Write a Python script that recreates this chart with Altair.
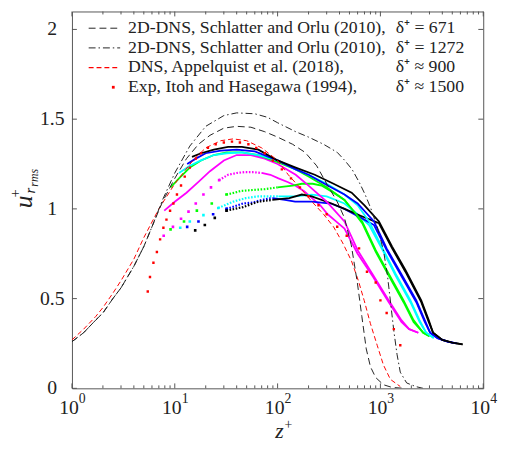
import altair as alt
import pandas as pd

# ---------------- data ----------------
# 2D-DNS, Schlatter and Orlu (2010), delta+ = 671  (black dashed)
z671 = [1, 1.3, 1.7, 2, 2.5, 3, 4, 5, 6, 7.6, 10, 13, 17, 22, 30, 40, 55, 75, 100, 140,
        185, 240, 307, 380, 447, 520, 596, 660, 728, 800, 900, 1070, 1300, 1700]
u671 = [0.26, 0.31, 0.38, 0.42, 0.5, 0.56, 0.68, 0.79, 0.9, 1.04, 1.17, 1.28, 1.36, 1.41, 1.45, 1.46, 1.455, 1.43, 1.40, 1.36,
        1.315, 1.24, 1.13, 1.04, 0.95, 0.8, 0.59, 0.4, 0.22, 0.12, 0.06, 0.02, 0.005, 0.0]
# 2D-DNS, Schlatter and Orlu (2010), delta+ = 1272 (black dash-dot)
z1272 = [1, 1.3, 1.7, 2, 2.5, 3, 4, 5, 6, 7.6, 10, 14, 20, 30, 40, 60, 80, 100, 150, 200, 280,
         380, 450, 530, 620, 710, 810, 930, 1070, 1170, 1260, 1350, 1450, 1560, 1800, 2200, 2600]
u1272 = [0.26, 0.31, 0.38, 0.42, 0.5, 0.56, 0.68, 0.79, 0.9, 1.05, 1.2, 1.35, 1.46, 1.52, 1.535, 1.53, 1.51, 1.48, 1.43, 1.40, 1.36,
         1.315, 1.27, 1.22, 1.15, 1.08, 1.0, 0.9, 0.77, 0.63, 0.47, 0.32, 0.19, 0.09, 0.03, 0.01, 0.0]
# DNS, Appelquist et al. (2018) (red dashed)
z900 = [1, 1.3, 1.7, 2, 2.5, 3, 4, 5, 7, 10, 15, 20, 28, 37, 50, 70, 100, 127, 170, 216, 280,
        350, 430, 523, 610, 695, 800, 930, 1070, 1250, 1560]
u900 = [0.27, 0.33, 0.40, 0.45, 0.53, 0.6, 0.72, 0.84, 1.0, 1.14, 1.27, 1.34, 1.38, 1.39, 1.38, 1.34, 1.27, 1.19, 1.11, 1.04, 0.97,
        0.9, 0.81, 0.71, 0.6, 0.49, 0.36, 0.24, 0.13, 0.05, 0.01]
# Exp, Itoh and Hasegawa (1994) (red dots)
exp_z = [5.46, 5.74, 6.2, 6.7, 7.2, 7.75, 8.3, 9.0, 9.7, 10.5, 11.5, 12.5, 14, 16, 18, 21, 25, 30, 36, 43,
         52, 62, 75, 90, 110, 135, 165, 200, 250, 300, 380, 470, 620, 740, 900, 1000, 1150, 1350, 1560]
exp_u = [0.54, 0.62, 0.70, 0.76, 0.83, 0.895, 0.94, 0.99, 1.03, 1.08, 1.13, 1.18, 1.23, 1.28, 1.31, 1.34, 1.36, 1.37, 1.375, 1.37,
         1.36, 1.34, 1.31, 1.27, 1.22, 1.17, 1.12, 1.07, 1.02, 0.97, 0.9, 0.85, 0.78, 0.65, 0.59, 0.49, 0.42, 0.33, 0.24]

# measurement set A (solid lines)
magA_z = [7.9, 10, 13, 17, 22, 30, 40, 55, 75, 100, 150, 200, 300, 447, 600, 850, 1206, 1600, 1900, 2335]
magA_u = [0.99, 1.04, 1.09, 1.15, 1.21, 1.27, 1.30, 1.30, 1.28, 1.25, 1.19, 1.13, 1.04, 0.93, 0.77, 0.63, 0.49, 0.38, 0.33, 0.31]
grnA_z = [9.1, 11, 14, 18, 24, 32, 45, 65, 100, 150, 200, 300, 447, 665, 900, 1200, 1679, 2100, 2608, 3000]
grnA_u = [1.12, 1.17, 1.23, 1.27, 1.30, 1.315, 1.315, 1.30, 1.26, 1.22, 1.18, 1.12, 1.05, 0.93, 0.77, 0.64, 0.49, 0.38, 0.31, 0.29]
cyaA_z = [11, 14, 18, 24, 32, 45, 65, 100, 150, 200, 300, 447, 600, 776, 1050, 1400, 1959, 2400, 2785, 3300]
cyaA_u = [1.2, 1.24, 1.27, 1.30, 1.31, 1.315, 1.30, 1.27, 1.22, 1.19, 1.14, 1.08, 1.02, 0.93, 0.78, 0.64, 0.49, 0.38, 0.31, 0.28]
bluA_z = [13.2, 16, 20, 28, 40, 60, 100, 150, 200, 307, 447, 600, 866, 1150, 1550, 2234, 2700, 3043, 3600, 4500, 5500]
bluA_u = [1.25, 1.28, 1.31, 1.325, 1.33, 1.32, 1.27, 1.22, 1.19, 1.13, 1.08, 1.03, 0.93, 0.78, 0.65, 0.49, 0.38, 0.31, 0.28, 0.26, 0.25]
blkA_z = [14.7, 18, 24, 33, 45, 65, 100, 150, 230, 350, 525, 700, 968, 1300, 1750, 2495, 2950, 3250, 4000, 5000, 6300]
blkA_u = [1.29, 1.31, 1.33, 1.345, 1.345, 1.33, 1.27, 1.23, 1.19, 1.14, 1.09, 1.02, 0.93, 0.79, 0.66, 0.49, 0.38, 0.31, 0.27, 0.255, 0.245]

# measurement set B: sparse dots, dense dotted part, solid part
magB_dz = [7.8, 9.6, 11.5, 13.6, 16, 19, 22.5, 27]
magB_du = [0.85, 0.9, 0.945, 0.985, 1.03, 1.08, 1.12, 1.16]
magB_tz = [27, 33, 40, 48, 57, 70]
magB_tu = [1.16, 1.19, 1.2, 1.205, 1.205, 1.2]
magB_sz = [70, 85, 102, 125, 148, 180, 216, 260, 307, 370, 447, 600, 850, 1206, 1600, 1900, 2335]
magB_su = [1.2, 1.19, 1.17, 1.15, 1.13, 1.1, 1.06, 1.02, 0.97, 0.93, 0.89, 0.75, 0.62, 0.48, 0.37, 0.33, 0.31]

grnB_dz = [9.1, 12.3, 16.4, 22.9, 31.8]
grnB_du = [0.886, 0.93, 0.99, 1.03, 1.08]
grnB_tz = [31.8, 38, 44, 57, 75, 100]
grnB_tu = [1.08, 1.09, 1.10, 1.105, 1.11, 1.12]
grnB_sz = [100, 140, 172, 220, 267, 350, 447, 665, 900, 1200, 1679, 2100, 2608, 3000]
grnB_su = [1.12, 1.13, 1.14, 1.14, 1.13, 1.09, 1.05, 0.92, 0.76, 0.63, 0.48, 0.37, 0.31, 0.29]

cyaB_dz = [11.3, 14, 19, 26.5]
cyaB_du = [0.895, 0.93, 0.965, 1.005]
cyaB_tz = [26.5, 36.8, 49, 65, 102]
cyaB_tu = [1.005, 1.04, 1.06, 1.07, 1.07]
cyaB_sz = [102, 148, 215, 300, 447, 600, 776, 1050, 1400, 1959, 2400, 2785, 3300]
cyaB_su = [1.07, 1.07, 1.08, 1.07, 1.03, 0.97, 0.91, 0.77, 0.63, 0.48, 0.37, 0.31, 0.28]

bluB_dz = [13.2, 17, 23.6, 31.8]
bluB_du = [0.9, 0.93, 0.97, 1.0]
bluB_tz = [31.8, 46, 57, 70, 89]
bluB_tu = [1.0, 1.03, 1.035, 1.05, 1.06]
bluB_sz = [89, 118, 148, 215, 330, 447, 650, 866, 1150, 1550, 2234, 2700, 3043, 3600, 4500, 5500]
bluB_su = [1.06, 1.05, 1.04, 1.04, 1.03, 1.0, 0.95, 0.91, 0.77, 0.64, 0.48, 0.37, 0.31, 0.28, 0.26, 0.25]

blkB_dz = [15.8, 19.6, 24.5, 31.8]
blkB_du = [0.88, 0.91, 0.95, 0.99]
blkB_tz = [31.8, 46, 65, 89]
blkB_tu = [0.99, 1.01, 1.04, 1.05]
blkB_sz = [89, 130, 172, 215, 335, 447, 650, 968, 1300, 1750, 2495, 2950, 3250, 4000, 5000, 6300]
blkB_su = [1.05, 1.06, 1.08, 1.07, 1.03, 1.0, 0.96, 0.92, 0.78, 0.65, 0.48, 0.37, 0.31, 0.27, 0.255, 0.245]

# axes ticks / labels
x_major = [1, 10, 100, 1000, 10000]
x_exp = ["0", "1", "2", "3", "4"]
x_minor = [2, 3, 4, 5, 6, 7, 8, 9, 20, 30, 40, 50, 60, 70, 80, 90,
           200, 300, 400, 500, 600, 700, 800, 900, 2000, 3000, 4000, 5000, 6000, 7000, 8000, 9000]
y_ticks = [0, 0.5, 1, 1.5, 2]
y_labels = ["0", "0.5", "1", "1.5", "2"]

legend_left = ["2D-DNS, Schlatter and Orlu (2010),", "2D-DNS, Schlatter and Orlu (2010),",
               "DNS, Appelquist et al. (2018),", "Exp, Itoh and Hasegawa (1994),"]
legend_right = ["δ⁺ = 671", "δ⁺ = 1272", "δ⁺ ≈ 900", "δ⁺ ≈ 1500"]

# ---------------- chart ----------------
W, H = 418, 383
SERIF = "Liberation Serif"
FRAME = "#555555"
xs = alt.Scale(type="log", domain=[1, 10000])
ys = alt.Scale(domain=[0, 2.1])
MAG, GRN, CYA, BLU, BLK, RED = "#ff00ff", "#00ff00", "#00ffff", "#0000ff", "#000000", "#ff0000"


def frame(z, u):
    return pd.DataFrame({"z": z, "u": u})


def enc():
    return dict(x=alt.X("z:Q", scale=xs, axis=None), y=alt.Y("u:Q", scale=ys, axis=None))


def line(z, u, color, width=1.8, dash=None):
    kw = dict(color=color, strokeWidth=width, clip=True)
    if dash:
        kw["strokeDash"] = dash
    return alt.Chart(frame(z, u)).mark_line(**kw).encode(**enc())


def dots(z, u, color, size=7):
    return alt.Chart(frame(z, u)).mark_square(color=color, size=size, opacity=1, clip=True).encode(**enc())


one = pd.DataFrame({"a": [0]})
layers = []

# set B (dotted start) then set A
for dz, du, tz, tu, sz, su, c in [
    (magB_dz, magB_du, magB_tz, magB_tu, magB_sz, magB_su, MAG),
    (grnB_dz, grnB_du, grnB_tz, grnB_tu, grnB_sz, grnB_su, GRN),
    (cyaB_dz, cyaB_du, cyaB_tz, cyaB_tu, cyaB_sz, cyaB_su, CYA),
    (bluB_dz, bluB_du, bluB_tz, bluB_tu, bluB_sz, bluB_su, BLU),
    (blkB_dz, blkB_du, blkB_tz, blkB_tu, blkB_sz, blkB_su, BLK),
]:
    layers.append(dots(dz, du, c))
    layers.append(line(tz, tu, c, width=2.2, dash=[1.6, 1.6]))
    layers.append(line(sz, su, c, width=1.8))

for z, u, c in [(magA_z, magA_u, MAG), (grnA_z, grnA_u, GRN), (cyaA_z, cyaA_u, CYA),
                (bluA_z, bluA_u, BLU), (blkA_z, blkA_u, BLK)]:
    layers.append(line(z, u, c, width=1.8))

layers.append(line(z900, u900, RED, width=1.0, dash=[5, 3]))
layers.append(line(z671, u671, "#222222", width=1.0, dash=[7, 4]))
layers.append(line(z1272, u1272, "#222222", width=1.0, dash=[7, 3, 1.5, 3]))
layers.append(dots(exp_z, exp_u, RED, size=6))

# ticks (inside)
tk = alt.Chart(pd.DataFrame({"z": x_major}))
tm = alt.Chart(pd.DataFrame({"z": x_minor}))
for base, L in [(tk, 5), (tm, 3)]:
    layers.append(base.mark_rule(color=FRAME, strokeWidth=1).encode(
        x=alt.X("z:Q", scale=xs, axis=None), y=alt.value(H), y2=alt.value(H - L)))
    layers.append(base.mark_rule(color=FRAME, strokeWidth=1).encode(
        x=alt.X("z:Q", scale=xs, axis=None), y=alt.value(0), y2=alt.value(L)))
ty = alt.Chart(pd.DataFrame({"u": y_ticks, "lab": y_labels}))
layers.append(ty.mark_rule(color=FRAME, strokeWidth=1).encode(
    y=alt.Y("u:Q", scale=ys, axis=None), x=alt.value(0), x2=alt.value(5)))
layers.append(ty.mark_rule(color=FRAME, strokeWidth=1).encode(
    y=alt.Y("u:Q", scale=ys, axis=None), x=alt.value(W), x2=alt.value(W - 5)))

# tick labels
layers.append(ty.mark_text(font=SERIF, fontSize=20, align="center", baseline="middle", color="#222").encode(
    y=alt.Y("u:Q", scale=ys, axis=None), x=alt.value(-20), text="lab:N"))
tx = alt.Chart(pd.DataFrame({"z": x_major, "e": x_exp}))
layers.append(tx.mark_text(font=SERIF, fontSize=20, align="right", baseline="alphabetic", dx=7, color="#222").encode(
    x=alt.X("z:Q", scale=xs, axis=None), y=alt.value(H + 26), text=alt.value("10")))
layers.append(tx.mark_text(font=SERIF, fontSize=14, align="left", baseline="alphabetic", dx=7, color="#222").encode(
    x=alt.X("z:Q", scale=xs, axis=None), y=alt.value(H + 15), text="e:N"))

# axis titles
oc = alt.Chart(one)
layers.append(oc.mark_text(font=SERIF, fontSize=22, fontStyle="italic", align="center", baseline="alphabetic", color="#222").encode(
    x=alt.value(211), y=alt.value(H + 50), text=alt.value("z")))
layers.append(oc.mark_text(font=SERIF, fontSize=14, align="left", baseline="alphabetic", color="#222").encode(
    x=alt.value(216), y=alt.value(H + 41), text=alt.value("+")))
layers.append(oc.mark_text(font=SERIF, fontSize=26, fontStyle="italic", angle=270, align="left", baseline="alphabetic", color="#222").encode(
    x=alt.value(-41), y=alt.value(200), text=alt.value("u")))
layers.append(oc.mark_text(font=SERIF, fontSize=15, angle=270, align="left", baseline="alphabetic", color="#222").encode(
    x=alt.value(-53), y=alt.value(189), text=alt.value("+")))
layers.append(oc.mark_text(font=SERIF, fontSize=15, fontStyle="italic", angle=270, align="left", baseline="alphabetic", color="#222").encode(
    x=alt.value(-38), y=alt.value(185), text=alt.value("r")))
layers.append(oc.mark_text(font=SERIF, fontSize=12, fontStyle="italic", angle=270, align="left", baseline="alphabetic", color="#222").encode(
    x=alt.value(-35), y=alt.value(178), text=alt.value("rms")))

# legend
styles = [("#222222", [7, 4], 1.0), ("#222222", [7, 3, 1.5, 3], 1.0), (RED, [5, 3], 1.3), (None, None, None)]
for i, (lab, rt) in enumerate(zip(legend_left, legend_right)):
    yy = 17 + 20 * i
    col, dash, sw = styles[i]
    if col:
        layers.append(oc.mark_rule(color=col, strokeWidth=sw, strokeDash=dash).encode(
            x=alt.value(17), x2=alt.value(49), y=alt.value(yy)))
    else:
        layers.append(oc.mark_square(color=RED, size=8, opacity=1).encode(x=alt.value(42), y=alt.value(yy)))
    layers.append(alt.Chart(pd.DataFrame({"t": [lab]})).mark_text(
        font=SERIF, fontSize=18, align="left", baseline="middle", color="#222").encode(
        x=alt.value(57), y=alt.value(yy), text="t:N"))
    layers.append(alt.Chart(pd.DataFrame({"t": [rt]})).mark_text(
        font=SERIF, fontSize=18, align="left", baseline="middle", color="#222").encode(
        x=alt.value(329), y=alt.value(yy), text="t:N"))

chart = alt.layer(*layers).properties(
    width=W, height=H,
    padding={"left": 65, "top": 0, "right": 15, "bottom": 51},
    autosize=alt.AutoSizeParams(type="none"),
).configure_view(stroke=FRAME, strokeWidth=1)

chart.save("out.html", embed_options={"renderer": "svg", "actions": False})
